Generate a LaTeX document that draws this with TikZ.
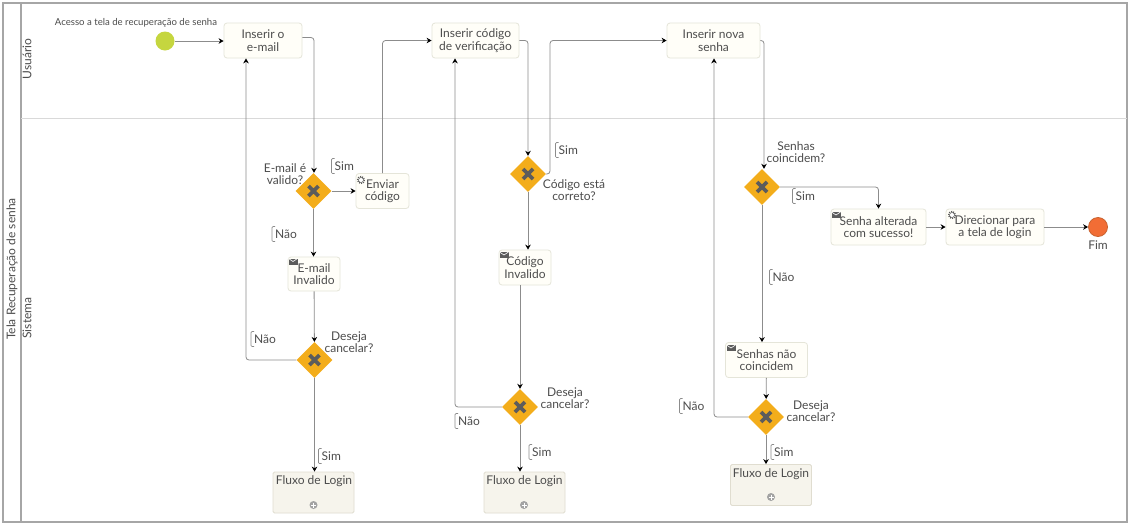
\documentclass[tikz,border=0pt]{standalone}
\usepackage{fontspec}
\setmainfont{Lato}
\usetikzlibrary{calc,positioning,shapes.geometric,arrows.meta}
\definecolor{framegray}{HTML}{A6A6A6}
\definecolor{lanegray}{HTML}{D9D9D9}
\definecolor{linegray}{HTML}{8C8C8C}
\definecolor{textgray}{HTML}{4D4D4D}
\definecolor{taskfill}{HTML}{FFFEF8}
\definecolor{taskline}{HTML}{E5E5D9}
\definecolor{subfill}{HTML}{F6F4EC}
\definecolor{subline}{HTML}{E0DDD0}
\definecolor{gatefill}{HTML}{F3AD1B}
\definecolor{markgray}{HTML}{5C5C5C}
\definecolor{startfill}{HTML}{C5D63F}
\definecolor{endfill}{HTML}{F26D35}
\definecolor{endline}{HTML}{C9622F}
\definecolor{plusgray}{HTML}{A3A3A3}
\tikzstyle{Label} = [text=textgray, font=\fontsize{12}{12.5}\selectfont, align=center, inner sep=0pt]
\tikzstyle{SmallLabel} = [text=textgray, font=\fontsize{9.6}{10}\selectfont, inner sep=0pt]
\tikzstyle{LaneLabel} = [text=textgray, font=\fontsize{12}{12.5}\selectfont, rotate=90, inner sep=0pt]
\tikzstyle{Task} = [rectangle, Label, draw=taskline, fill=taskfill, rounded corners=3pt, line width=.8pt, anchor=center]
\tikzstyle{SubFlow} = [rectangle, draw=subline, fill=subfill, rounded corners=1.5pt, line width=.8pt, minimum width=81pt, minimum height=41pt]
\tikzstyle{Gate} = [diamond, fill=gatefill, inner sep=0pt, minimum width=36pt, minimum height=36pt,
    path picture={\draw[markgray, line width=3.6pt]
        ($(path picture bounding box.center)+(-5,-5)$) -- ($(path picture bounding box.center)+(5,5)$)
        ($(path picture bounding box.center)+(-5,5)$) -- ($(path picture bounding box.center)+(5,-5)$);}]
\tikzstyle{arrow} = [draw=linegray, line width=.8pt, rounded corners=3pt, -{Stealth[black, length=5pt, width=5.5pt]}]
\tikzstyle{Bracket} = [draw=linegray, line width=.7pt, rounded corners=1pt]
\newcommand{\Anno}[3]{
    \node[Label, anchor=west] (#1) at (#2) {#3};
    \draw[Bracket] ($(#1.west)+(0,-7.5)$) -- ++(-3,0) -- ++(0,15) -- ++(3,0);
}
\newcommand{\MailIcon}[1]{
    \fill[markgray] ($(#1)+(-4.5,-3)$) rectangle ($(#1)+(4.5,3)$);
    \draw[white, line width=.6pt] ($(#1)+(-4.5,-3)$) -- (#1) -- ($(#1)+(4.5,-3)$);
}
\newcommand{\GearIcon}[1]{
    \draw[markgray, line width=1.4pt, dash pattern=on 1pt off 1.1pt] (#1) circle (3.4);
    \draw[markgray, line width=.5pt, fill=white] (#1) circle (2.5);
}
\newcommand{\PlusIcon}[1]{
    \fill[plusgray] (#1) circle (4);
    \draw[white, line width=1pt] ($(#1)+(-2.5,0)$) -- ($(#1)+(2.5,0)$) ($(#1)+(0,-2.5)$) -- ($(#1)+(0,2.5)$);
}

\begin{document}
\begin{tikzpicture}[x=1pt, y=-1pt]
        \useasboundingbox (0,0) rectangle (1131,528);
        \fill [white] (0,0) rectangle (1131,528);
        \draw [framegray, line width=1.2pt] (3,3) rectangle (1127,522); %outer pool
        \draw [framegray, line width=1.2pt] (21,3) -- (21,522); %lane header
        \draw [lanegray, line width=1pt] (21,118) -- (1127,118); %lane separator
        \node [LaneLabel] (PoolTitle) at (12,269) {Tela Recuperação de senha};
        \node [LaneLabel] (LaneUser) at (27,59) {Usuário};
        \node [LaneLabel] (LaneSystem) at (27,318) {Sistema};

        \node [circle, fill=startfill, minimum size=19pt, inner sep=0pt] (Start) at (165,41) {}; %start event
        \node [SmallLabel] (StartText) at (136,23) {Acesso a tela de recuperação de senha};
        \node [Task, minimum width=78pt, minimum height=35pt] (InserirEmail) at (263,40.5) {Inserir o\\e-mail};
        \node [Task, minimum width=87pt, minimum height=35pt] (InserirCodigo) at (475.5,40.5) {Inserir código\\de verificação};
        \node [Task, minimum width=93pt, minimum height=35pt] (InserirSenha) at (713.5,40.5) {Inserir nova\\senha};

        %first column
        \node [Gate] (EmailGate) at (313.5,191) {};
        \node [Label] (EmailGateText) at (285,174) {E-mail é\\valido?};
        \node [Task, minimum width=53pt, minimum height=35pt] (EnviarCodigo) at (382.5,191) {Enviar\\código};
        \node [Task, minimum width=52pt, minimum height=34pt] (EmailInvalido) at (314,274) {E-mail\\Invalido};
        \node [Gate] (CancelGateA) at (314.5,360) {};
        \node [Label] (CancelTextA) at (349,342) {Deseja\\cancelar?};
        \node [SubFlow] (LoginA) at (313.5,492.5) {};
        \node [Label] (LoginTextA) at (314,481) {Fluxo de Login};
        \GearIcon{361,180}
        \MailIcon{293,261.5}
        \PlusIcon{313.5,505}

        %second column
        \node [Gate] (CodigoGate) at (528,174) {};
        \node [Label] (CodigoGateText) at (574,190) {Código está\\correto?};
        \node [Task, minimum width=52pt, minimum height=35pt] (CodigoInvalido) at (525,267.5) {Código\\Invalido};
        \node [Gate] (CancelGateB) at (520,407) {};
        \node [Label] (CancelTextB) at (565,398) {Deseja\\cancelar?};
        \node [SubFlow] (LoginB) at (524.5,492.5) {};
        \node [Label] (LoginTextB) at (524.5,481) {Fluxo de Login};
        \MailIcon{504,255}
        \PlusIcon{524,505}

        %third column
        \node [Gate] (SenhaGate) at (762,187) {};
        \node [Label] (SenhaGateText) at (796,152) {Senhas\\coincidem?};
        \node [Task, minimum width=95pt, minimum height=36pt] (SenhaAlterada) at (878.5,227) {Senha alterada\\com sucesso!};
        \node [Task, minimum width=98pt, minimum height=36pt] (Direcionar) at (995,227) {Direcionar para\\a tela de login};
        \node [circle, draw=endline, fill=endfill, line width=.8pt, minimum size=19pt, inner sep=0pt] (End) at (1098,227) {}; %end event
        \node [Label] (EndText) at (1098,245) {Fim};
        \node [Task, minimum width=82pt, minimum height=35pt] (SenhasNao) at (766.5,360) {Senhas não\\coincidem};
        \node [Gate] (CancelGateC) at (766,417) {};
        \node [Label] (CancelTextC) at (811,411) {Deseja\\cancelar?};
        \node [SubFlow] (LoginC) at (771,485) {};
        \node [Label] (LoginTextC) at (771,474) {Fluxo de Login};
        \MailIcon{731,348}
        \GearIcon{952,215}
        \MailIcon{836,215}
        \PlusIcon{771,497}

        %sequence flows
        \draw [arrow] (Start) -- (InserirEmail.west |- Start);
        \draw [arrow] ([yshift=3pt]InserirEmail.east) -| ([xshift=.5pt]EmailGate.north);
        \draw [arrow] (EmailGate) -- (EnviarCodigo);
        \draw [arrow] (EmailGate) -- (EmailInvalido.north -| EmailGate);
        \draw [arrow] (EmailInvalido) -- (CancelGateA);
        \draw [arrow] (CancelGateA.west) -| (InserirEmail.south -| 246,0);
        \draw [arrow] (CancelGateA) -- (LoginA.north -| CancelGateA);
        \draw [arrow] (EnviarCodigo.north) |- (InserirCodigo.west);
        \draw [arrow] (InserirCodigo.east) -| (CodigoGate.north);
        \draw [arrow] (CodigoGate.east) -- (550,174) |- (InserirSenha.west);
        \draw [arrow] (CodigoGate) -- (CodigoInvalido.north -| CodigoGate);
        \draw [arrow] (CodigoInvalido.south -| CancelGateB) -- (CancelGateB);
        \draw [arrow] (CancelGateB.west) -| (InserirCodigo.south -| 455,0);
        \draw [arrow] (CancelGateB) -- (LoginB.north -| CancelGateB);
        \draw [arrow] (InserirSenha.east) -| ([xshift=2pt]SenhaGate.north);
        \draw [arrow] (SenhaGate.east) -| (SenhaAlterada.north);
        \draw [arrow] (SenhaGate) -- (SenhasNao.north -| SenhaGate);
        \draw [arrow] (SenhaAlterada) -- (Direcionar);
        \draw [arrow] (Direcionar) -- (End);
        \draw [arrow] (SenhasNao) -- (CancelGateC);
        \draw [arrow] (CancelGateC.west) -| (InserirSenha.south -| 714,0);
        \draw [arrow] (CancelGateC) -- (LoginC.north -| CancelGateC);

        %annotations
        \Anno{SimA}{334.5,166}{Sim}
        \Anno{NaoA}{275,234}{Não}
        \Anno{NaoB}{254,339}{Não}
        \Anno{SimB}{321.5,456}{Sim}
        \Anno{SimC}{558.5,150}{Sim}
        \Anno{NaoC}{458,421}{Não}
        \Anno{SimD}{532,452}{Sim}
        \Anno{SimE}{795.5,196}{Sim}
        \Anno{NaoD}{772.5,277}{Não}
        \Anno{NaoE}{682.5,406}{Não}
        \Anno{SimF}{774,452}{Sim}
    \end{tikzpicture}
\end{document}
